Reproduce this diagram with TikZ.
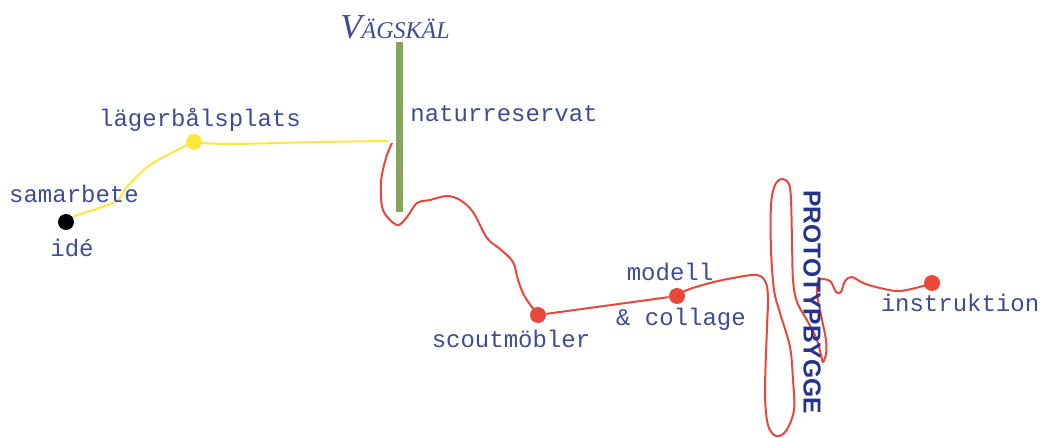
\documentclass[tikz,border=0pt]{standalone}
\usepackage{fontspec}
\setmainfont{Liberation Serif}
\setsansfont{Liberation Sans}
\setmonofont{Liberation Mono}
\usepackage{xcolor}
\usepackage{tikz}
\usetikzlibrary{positioning,backgrounds}
\definecolor{textblue}{HTML}{3E4B95}
\definecolor{deepblue}{HTML}{25338A}
\definecolor{routered}{HTML}{E8473A}
\definecolor{campyellow}{HTML}{FBE83C}
\definecolor{barolive}{HTML}{86A45A}
\tikzset{
  stop/.style={
    circle,
    inner sep=0pt,
    minimum size=8pt
  },
  lbl/.style={
    font=\ttfamily\fontsize{12}{14}\selectfont,
    text=textblue,
    inner sep=0pt,
    text height=8pt,
    text depth=2.5pt
  },
  route/.style={
    draw=routered,
    line width=1pt,
    line join=round
  },
  trail/.style={
    draw=campyellow,
    line width=1pt,
    line join=round
  },
  crossbar/.style={
    draw=barolive,
    line width=3.5pt
  }
}

\begin{document}
\begin{tikzpicture}[x=0.5pt,y=-0.5pt]
    \useasboundingbox (0,0) rectangle (1044,438);
    % stops along the way
    \node[stop, fill=black] (ide) at (66,222) {};
    \node[stop, fill=campyellow] (lager) at (194,142) {};
    \node[stop, fill=routered] (scout) at (538,315) {};
    \node[stop, fill=routered] (modell) at (677,296) {};
    \node[stop, fill=routered] (instr) at (932,283) {};
    \coordinate (vtop) at (399,42);
    \coordinate (vbot) at (399,212);
    \coordinate (vmid) at (399,116);
    \coordinate (yend) at (388,141);
    \coordinate (rstart) at (392,143);
    \draw[crossbar] (vtop) -- (vbot);
    \node[lbl, above=3pt of ide, xshift=4pt] (samarbete) {samarbete};
    \node[lbl, below=5pt of ide, xshift=3pt] (idetext) {idé};
    \node[lbl, above=1pt of lager, xshift=3pt] (lagertext) {lägerbålsplats};
    \node[lbl, right=5.5pt of vmid] (natur) {naturreservat};
    \node[inner sep=0pt, text=textblue, above=1.5pt of vtop, xshift=-2pt] (vagskal)
      {\itshape\fontsize{17.5}{19}\selectfont V\fontsize{12}{14}\selectfont ÄGSKÄL};
    \node[lbl, below=4pt of scout, xshift=-13.5pt] (scouttext) {scoutmöbler};
    \node[lbl, above=0.8pt of modell, xshift=-3.5pt] (modelltext) {modell};
    \node[lbl, below=2.5pt of modell, xshift=2pt] (collage) {\& collage};
    \node[lbl, below=2pt of instr, xshift=14pt] (instrtext) {instruktion};
    \node[font=\sffamily\bfseries\fontsize{12.3}{14}\selectfont, text=deepblue,
      rotate=-90, inner sep=0pt] (proto) at (812,302) {PROTOTYPBYGGE};
    \begin{scope}[on background layer]
      \draw[trail] plot[smooth, tension=0.5] coordinates {(ide.center) (72,217) (115,202)
        (127,187) (150,165) (187,145) (lager.center)};
      \draw[trail] plot[smooth, tension=0.5] coordinates {(lager.center) (202,143)
        (233,144) (320,142) (yend)};
      \draw[route] plot[smooth, tension=0.55] coordinates {(rstart) (386,158) (381,182)
        (383,210) (397,225) (407,217) (417,203) (430,200) (447,196) (460,200) (473,212)
        (487,238) (500,249) (513,262) (518,280) (525,297) (scout.center)};
      \draw[route] (scout) -- (modell);
      \draw[route] plot[smooth, tension=0.55] coordinates {(modell.center) (687,290)
        (710,283) (733,278) (757,275) (766,283) (768,300) (767,327) (765,393) (768,425)
        (776,436) (786,431) (794,410) (793,380) (790,347) (780,313) (774,290) (771,250)
        (771,205) (775,185) (782,179) (789,184) (791,200) (792,240) (793,280) (797,302)
        (808,322) (817,340) (821,355) (823,362) (826,354) (826,340) (821,315) (817,293)
        (819,280) (830,281) (836,292) (841,292) (845,281) (852,277) (863,283) (880,288)
        (900,291) (927,285) (instr.center)};
    \end{scope}
\end{tikzpicture}
\end{document}
